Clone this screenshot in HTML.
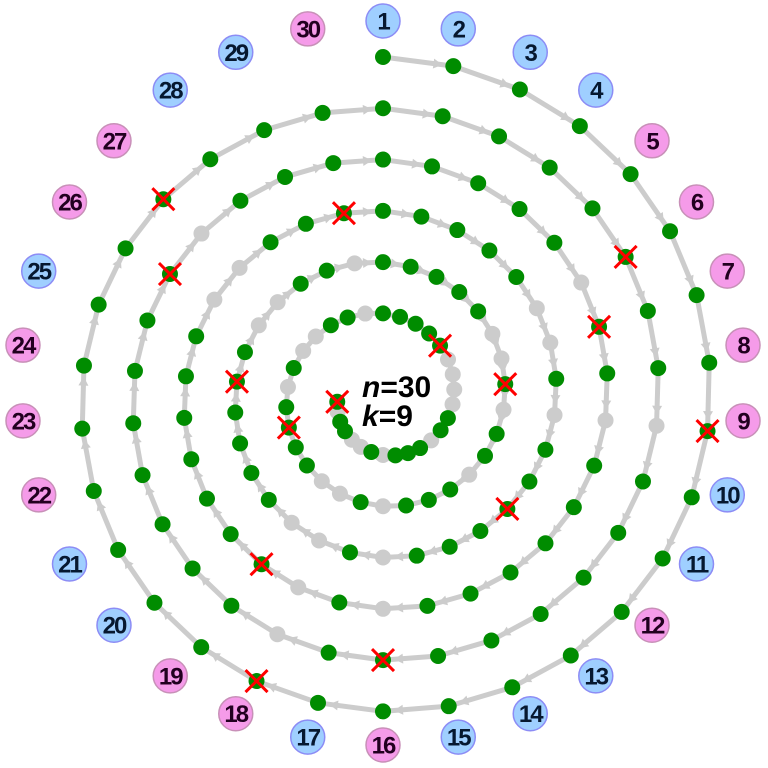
<!DOCTYPE html>
<html><head><meta charset="utf-8"><style>
html,body{margin:0;padding:0;background:#fff;}
svg{display:block;}
text{font-family:"Liberation Sans",sans-serif;font-weight:bold;}
</style></head>
<body>
<svg id="chart" width="768" height="768" viewBox="0 0 768 768">
<g id="segs"></g>
<g id="dots"></g>
<g id="labels"></g>
<text x="362" y="397" font-size="30" fill="#000"><tspan font-style="italic">n</tspan>=30</text>
<text x="362" y="426" font-size="30" fill="#000"><tspan font-style="italic">k</tspan>=9</text>
</svg>
<script>
const nPeople = [30];
const kStep = [9];
const eliminationsShown = [15];

const NS = 'http://www.w3.org/2000/svg';
const n = nPeople[0], k = kStep[0], E = eliminationsShown[0];
const alive = new Array(n + 1).fill(true);
const steps = [];
let pos = 0, killed = 0, count = 0;
const killOrder = [];
while (killed < E) {
  const p = pos % n + 1;
  if (!alive[p]) { steps.push({p, t: 'dead'}); }
  else {
    count++;
    if (count === k) { steps.push({p, t: 'kill'}); alive[p] = false; killed++; count = 0; killOrder.push(p); }
    else steps.push({p, t: 'alive'});
  }
  pos++;
}
const S = steps.length - 1;
const cx = 383, cy = 397, r0 = 340, rEnd = 46;
const d = (r0 - rEnd) / S;
function pt(s) {
  const a = (steps[s].p - 1) * 2 * Math.PI / n;
  const r = r0 - d * s;
  return [cx + r * Math.sin(a), cy - r * Math.cos(a)];
}
const segs = document.getElementById('segs');
const dots = document.getElementById('dots');
for (let s = 0; s < S; s++) {
  const [x1, y1] = pt(s), [x2, y2] = pt(s + 1);
  const l = document.createElementNS(NS, 'line');
  l.setAttribute('x1', x1); l.setAttribute('y1', y1); l.setAttribute('x2', x2); l.setAttribute('y2', y2);
  l.setAttribute('stroke', '#cccccc'); l.setAttribute('stroke-width', '5');
  
  
  segs.appendChild(l);
  const dx = x2 - x1, dy = y2 - y1, L = Math.hypot(dx, dy) || 1;
  const ux = dx / L, uy = dy / L;
  const tx = x2 - ux * 11, ty = y2 - uy * 11;
  const bx = tx - ux * 9, by = ty - uy * 9;
  const tri = document.createElementNS(NS, 'polygon');
  tri.setAttribute('points', `${tx},${ty} ${bx - uy * 5},${by + ux * 5} ${bx + uy * 5},${by - ux * 5}`);
  tri.setAttribute('fill', '#cccccc');
  
  
  segs.appendChild(tri);
}
const order = [...steps.keys()].sort((a, b) => (steps[a].t === 'dead' ? 0 : 1) - (steps[b].t === 'dead' ? 0 : 1));
for (const s of order) {
  const [x, y] = pt(s);
  const c = document.createElementNS(NS, 'circle');
  c.setAttribute('cx', x); c.setAttribute('cy', y); c.setAttribute('r', 8);
  c.setAttribute('fill', steps[s].t === 'dead' ? '#cccccc' : '#008c00');
  
  
  dots.appendChild(c);
}
for (let s = 0; s <= S; s++) {
  if (steps[s].t !== 'kill') continue;
  const [x, y] = pt(s);
  const g = document.createElementNS(NS, 'path');
  g.setAttribute('d', `M${x - 11},${y - 11}L${x + 11},${y + 11}M${x - 11},${y + 11}L${x + 11},${y - 11}`);
  g.setAttribute('stroke', '#ff0000'); g.setAttribute('stroke-width', '3');
  
  
  dots.appendChild(g);
}
const labels = document.getElementById('labels');
for (let p = 1; p <= n; p++) {
  const a = (p - 1) * 2 * Math.PI / n;
  const x = 383 + 362 * Math.sin(a), y = 383 - 362 * Math.cos(a);
  const pink = killOrder.includes(p);
  const c = document.createElementNS(NS, 'circle');
  c.setAttribute('cx', x); c.setAttribute('cy', y); c.setAttribute('r', 17);
  c.setAttribute('fill', pink ? '#f59be9' : '#9fcfff');
  c.setAttribute('stroke', pink ? '#c890b8' : '#8c8cf5'); c.setAttribute('stroke-width', '1.5');
  
  
  labels.appendChild(c);
  const t = document.createElementNS(NS, 'text');
  t.setAttribute('x', x); t.setAttribute('y', y + 8.5);
  t.setAttribute('text-anchor', 'middle'); t.setAttribute('font-size', '24');
  t.setAttribute('fill', pink ? '#220020' : '#061830');
  t.setAttribute('letter-spacing', '-2');
  t.textContent = p;
  
  
  labels.appendChild(t);
}
</script>
</body></html>
